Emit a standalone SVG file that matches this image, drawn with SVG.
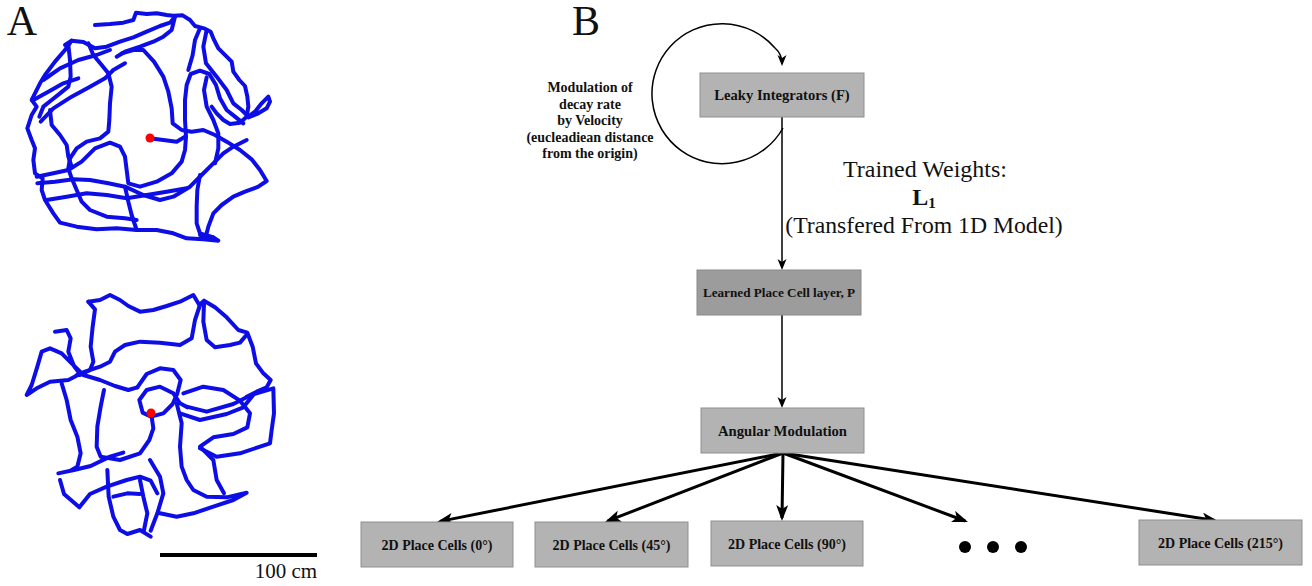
<svg xmlns="http://www.w3.org/2000/svg" width="1312" height="586" viewBox="0 0 1312 586">
<style>
.box{fill:#b3b3b3;stroke:#8f8f8f;stroke-width:1}
.dark{fill:#9c9c9c;stroke:#8a8a8a;stroke-width:1}
.lbl{font-family:"Liberation Serif",serif;font-weight:bold;fill:#111;text-anchor:middle}
.big{font-family:"Liberation Serif",serif;fill:#111;text-anchor:middle}
.traj{fill:none;stroke:#0d0de8;stroke-width:12;stroke-linejoin:round;stroke-linecap:round}
.thin{fill:none;stroke:#000;stroke-width:1.5}
.thick{fill:none;stroke:#000;stroke-width:3}
</style>
<defs>
<marker id="ahBig" markerUnits="userSpaceOnUse" markerWidth="16" markerHeight="12" refX="13" refY="6" orient="auto"><path d="M0,0 L16,6 L0,12 L4,6 z" fill="#000"/></marker>
<marker id="ahSmall" markerUnits="userSpaceOnUse" markerWidth="12" markerHeight="10" refX="9" refY="4.5" orient="auto"><path d="M0,0 L11,4.5 L0,9 L3,4.5 z" fill="#000"/></marker>
</defs>
<rect width="1312" height="586" fill="#fff"/>

<g id="panelA">
<text x="22" y="35" class="big" font-size="42">A</text>
<g id="trajTop" transform="scale(0.33333)">
<path class="traj" d="M285,75 L330,72 L370,68 L400,60 L408,38 L440,42 L470,40 L500,45 L520,47 L548,46 L570,60 L585,78 L612,85 L632,95 L640,115 L655,145 L680,170 L695,185 L700,215 L718,240 L735,258 L742,290 L745,320 L740,350 L720,368 L690,372 L670,360 L650,340 L635,320"/>
<path class="traj" d="M195,135 L215,122 L250,126 L285,145 L320,140 L360,125 L400,112 L440,95 L480,78 L510,68 L525,50 L515,90 L490,110 L460,125 L420,140 L375,155 L350,170"/>
<path class="traj" d="M215,122 L195,150 L165,185 L135,225 L120,250 L100,290 L95,300 L110,320 L95,345 L82,385 L95,420 L105,445 L100,480 L105,520 L128,535 L125,570 L135,600 L160,640 L180,668 L230,680 L290,688 L350,685 L410,690 L470,690 L520,700 L560,715 L610,718 L655,722 L640,712 L600,705"/>
<path class="traj" d="M205,135 L210,180 L212,230 L205,260 L180,280 L155,300 L130,320 L118,350"/>
<path class="traj" d="M265,130 L280,165 L305,195 L325,220 L335,260 L330,310 L328,360 L325,395 L300,415 L260,425 L230,445 L210,475 L205,505 L215,535 L230,570 L245,605 L270,630 L320,650 L375,655 L410,660"/>
<path class="traj" d="M150,330 L155,375 L180,405 L200,435 L205,470 L215,500"/>
<path class="traj" d="M110,530 L160,520 L205,510 L245,485 L285,445 L330,428 L360,440 L375,470 L380,510 L385,550 L420,560 L470,545 L515,520 L545,485 L555,450 L558,410 L555,360 L555,300 L560,255 L572,222 L600,212 L628,222 L648,255 L660,295 L680,330 L705,350 L730,370"/>
<path class="traj" d="M365,160 L400,150 L430,150 L462,185 L490,230 L505,275 L515,325 L518,370 L545,390 L575,395 L610,390 L645,405 L680,425 L720,450 L755,478 L780,510 L800,543 L775,560 L735,575 L700,590 L665,615 L640,640 L625,680 L620,700"/>
<path class="traj" d="M112,550 L165,545 L220,538 L270,540 L325,550 L375,560 L430,585 L480,600 L520,590 L570,560 L605,525 L640,490 L670,460 L700,440 L740,420"/>
<path class="traj" d="M140,600 L200,590 L260,580 L320,585 L380,595 L440,585 L500,575 L560,565"/>
<path class="traj" d="M600,525 L592,570 L590,620 L590,670 L600,700 L640,712"/>
<path class="traj" d="M375,560 L385,605 L395,645 L410,690"/>
<path class="traj" d="M600,85 L585,120 L578,165 L565,210"/>
<path class="traj" d="M620,90 L610,140 L618,190 L650,230 L680,270 L700,310 L725,330 L745,350 L765,335 L785,310 L805,290 L810,305 L800,325 L775,340 L745,352"/>
<path class="traj" d="M620,232 L612,270 L620,320 L640,360 L655,400 L655,445 L645,490"/>
<path class="traj" d="M122,365 L160,325 L215,290 L270,260 L315,235 L340,210 L375,190"/>
<path class="traj" d="M130,240 L180,205 L235,180 L290,165 L330,150"/>
<path class="traj" d="M100,300 L145,275 L190,250 L235,235"/>
<path class="traj" d="M449,415 L490,420 L530,425 L555,410"/>
</g>
<circle cx="150" cy="138" r="4.5" fill="#f00"/>
<g id="trajBottom" transform="translate(0,280) scale(0.33333)">
<path class="traj" d="M265,65 L300,60 L330,45 L360,60 L385,78 L420,95 L460,90 L500,78 L540,65 L580,45 L598,75 L612,62 L645,82 L680,112 L715,150 L742,158 L758,200 L768,250 L790,280 L812,300 L800,322 L770,335 L740,350"/>
<path class="traj" d="M265,65 L285,88 L278,140 L272,200 L280,245 L270,270 L240,285"/>
<path class="traj" d="M600,75 L585,120 L575,175 L540,195 L480,188 L420,185 L375,195 L345,215 L330,245 L300,260 L255,275 L230,285"/>
<path class="traj" d="M612,70 L610,125 L620,180 L645,202 L690,195 L720,188 L742,162"/>
<path class="traj" d="M165,155 L200,150 L212,175 L205,215 L222,258 L240,282 L205,300 L150,305 L110,325 L80,345 L95,315 L112,260 L125,215 L150,205 L185,220 L215,250 L250,285 L300,300 L345,318 L385,330 L412,322"/>
<path class="traj" d="M185,310 L200,360 L212,420 L232,470 L242,520 L232,560 L215,570"/>
<path class="traj" d="M312,330 L302,380 L292,440 L290,500 L302,530 L360,540 L420,520 L448,480 L460,445 L455,410"/>
<path class="traj" d="M412,322 L440,282 L480,265 L520,270 L542,300 L532,340 L518,372 L490,400 L453,410 L428,398 L418,360 L440,330 L480,320 L520,340 L540,370 L562,382"/>
<path class="traj" d="M530,370 L545,430 L540,500 L545,560 L560,600 L580,630 L620,650 L680,652 L740,638 L700,660 L640,680 L580,700 L530,710 L480,700"/>
<path class="traj" d="M540,400 L600,420 L680,402 L730,382 L762,342 L820,325 L822,400 L815,450 L810,490 L780,500 L720,520 L650,530 L600,505"/>
<path class="traj" d="M550,340 L610,320 L670,330 L720,362 L750,400 L742,442 L700,462 L640,472 L600,500 L640,540 L650,600 L672,640"/>
<path class="traj" d="M175,580 L222,570 L272,558 L330,530 L370,518"/>
<path class="traj" d="M450,540 L480,590 L490,640 L472,700 L452,752"/>
<path class="traj" d="M322,570 L326,650 L340,710 L360,750 L382,762 L420,750 L452,770"/>
<path class="traj" d="M180,600 L192,642 L238,682 L270,642 L320,620 L380,600 L420,590 L452,602 L472,640"/>
<path class="traj" d="M420,600 L430,650 L442,700 L432,750"/>
<path class="traj" d="M340,650 L382,640 L420,642"/>
<path class="traj" d="M560,380 L620,395 L700,372 L740,352"/>
</g>
<circle cx="151" cy="413" r="4.5" fill="#f00"/>
<line x1="160" y1="555" x2="317" y2="555" stroke="#000" stroke-width="4"/>
<text x="286" y="578" class="big" font-size="21">100 cm</text>
</g>

<g id="panelB">
<text x="586" y="35" class="big" font-size="42">B</text>

<g id="connectors">
<path class="thin" d="M783,128 A70,70 0 1 1 775,48 Q782,54 782,64" marker-end="url(#ahSmall)"/>
<line class="thin" x1="782" y1="117" x2="782" y2="268" marker-end="url(#ahSmall)"/>
<line class="thin" x1="782" y1="315" x2="782" y2="406" marker-end="url(#ahSmall)"/>
<line class="thick" x1="783" y1="453" x2="439.9" y2="521.4" marker-end="url(#ahBig)"/>
<line class="thick" x1="783" y1="453" x2="607.8" y2="520.9" marker-end="url(#ahBig)"/>
<line class="thick" x1="783" y1="453" x2="782" y2="518" marker-end="url(#ahBig)"/>
<line class="thick" x1="783" y1="453" x2="965.2" y2="521" marker-end="url(#ahBig)"/>
<line class="thick" x1="783" y1="453" x2="1215" y2="520.5" marker-end="url(#ahBig)"/>
</g>

<g id="loopLabel">
<text class="lbl" font-size="14" x="590"><tspan x="590" y="92">Modulation of</tspan><tspan x="590" y="108.5">decay rate</tspan><tspan x="590" y="125">by Velocity</tspan><tspan x="590" y="141.5">(eucleadiean distance</tspan><tspan x="590" y="158">from the origin)</tspan></text>
</g>

<g id="weightsLabel">
<text x="925" y="177" class="big" font-size="24">Trained Weights:</text>
<text x="924" y="205" class="big" font-size="24" font-weight="bold">L<tspan font-size="15" dy="3">1</tspan></text>
<text x="924" y="233" class="big" font-size="23.7">(Transfered From 1D Model)</text>
</g>

<g id="leaky">
<rect class="box" x="700" y="73" width="164" height="44"/>
<text class="lbl" x="782" y="100" font-size="14.6">Leaky Integrators (F)</text>
</g>
<g id="learned">
<rect class="dark" x="697" y="270" width="164" height="45"/>
<text class="lbl" x="779" y="297" font-size="13.2">Learned Place Cell layer, P</text>
</g>
<g id="angular">
<rect class="box" x="701" y="408" width="163" height="45"/>
<text class="lbl" x="782.5" y="435.5" font-size="14.7">Angular Modulation</text>
</g>
<g id="pc0">
<rect class="box" x="361" y="522" width="152" height="45"/>
<text class="lbl" x="437" y="549.5" font-size="14">2D Place Cells (0°)</text>
</g>
<g id="pc45">
<rect class="box" x="535" y="522" width="153" height="45"/>
<text class="lbl" x="611.5" y="549.5" font-size="14">2D Place Cells (45°)</text>
</g>
<g id="pc90">
<rect class="box" x="711" y="521" width="152" height="45"/>
<text class="lbl" x="787" y="548.5" font-size="14">2D Place Cells (90°)</text>
</g>
<g id="dots">
<circle cx="965" cy="547" r="6" fill="#000"/>
<circle cx="993" cy="547" r="6" fill="#000"/>
<circle cx="1021" cy="547" r="6" fill="#000"/>
</g>
<g id="pc215">
<rect class="box" x="1139" y="520" width="163" height="45"/>
<text class="lbl" x="1220.5" y="547.5" font-size="14">2D Place Cells (215°)</text>
</g>
</g>
</svg>
